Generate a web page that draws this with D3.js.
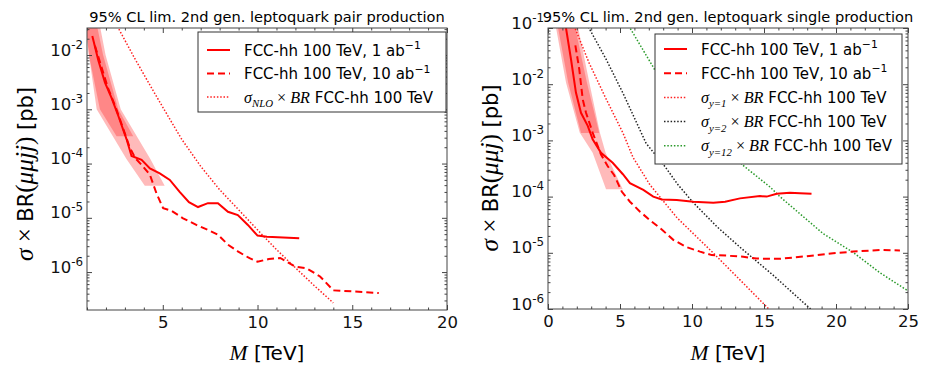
<!DOCTYPE html>
<html>
<head>
<meta charset="utf-8">
<script src="https://cdn.jsdelivr.net/npm/d3@7"></script>
<style>
body { margin: 0; background: #fff; }
text { font-family: "DejaVu Sans", sans-serif; }
</style>
</head>
<body>
<svg id="fig" width="930" height="369"></svg>
<script>
// ---- pair production (left panel) ----
const pairMassRange = [1, 20];
const pairSigmaRange = [2e-7, 3.15e-2];
const pairMassTicks = [5, 10, 15, 20];
const pairSigmaTicks = [1e-6, 1e-5, 1e-4, 1e-3, 1e-2];

// [M (TeV), sigma x BR (pb)]
const pairLimit1 = [[1.28,2.24e-2],[1.6,7.9e-3],[1.95,3.1e-3],[2.3,1.6e-3],[2.65,7.6e-4],[3.09,2.8e-4],
  [3.35,1.38e-4],[3.88,1.17e-4],[4.32,8.1e-5],[4.84,6.6e-5],[5.37,5.0e-5],[5.89,3.0e-5],[6.38,1.95e-5],
  [6.86,1.58e-5],[7.38,1.86e-5],[7.91,1.86e-5],[8.44,1.29e-5],[8.96,1.12e-5],[9.49,7.4e-6],[10.0,4.7e-6],
  [10.5,4.5e-6],[12.2,4.2e-6]];
const pairLimit10 = [[1.42,1.48e-2],[1.7,7.1e-3],[2.1,2.5e-3],[2.5,1.12e-3],[2.9,4.5e-4],[3.25,2.0e-4],
  [3.55,1.26e-4],[3.95,8.9e-5],[4.32,6.2e-5],[4.67,2.8e-5],[5.02,1.5e-5],[5.46,1.35e-5],[6.07,9.8e-6],
  [6.77,7.4e-6],[7.38,6.0e-6],[7.91,4.9e-6],[8.44,3.2e-6],[8.96,2.4e-6],[9.58,1.8e-6],[10.0,1.55e-6],
  [10.6,1.74e-6],[11.2,1.82e-6],[12.0,1.26e-6],[12.6,1.17e-6],[13.3,8.3e-7],[14.0,4.6e-7],[15.0,4.4e-7],
  [16.4,4.1e-7]];
const pairTheory = [[2.6,3.4e-2],[3.5,8.9e-3],[4.4,2.5e-3],[5.2,8.3e-4],[6.0,2.8e-4],[7.0,8.9e-5],
  [8.0,3.3e-5],[9.0,1.41e-5],[10.0,6.0e-6],[11.0,2.6e-6],[12.0,1.2e-6],[13.0,5.6e-7],[14.0,2.7e-7]];
// [sigma, M low, M high]
const pairBandOuter = [[3.2e-2,0.95,1.7],[1e-2,1.1,1.98],[1e-3,1.51,2.78],[1.2e-4,3.09,4.35],[3.9e-5,4.05,5.1]];
const pairBandInner = [[3.2e-2,0.95,1.55],[1e-2,1.1,1.85],[1e-3,1.68,2.65],[3.2e-4,2.56,3.44]];

// ---- single production (right panel) ----
const singleMassRange = [0, 25];
const singleSigmaRange = [1e-6, 1e-1];
const singleMassTicks = [0, 5, 10, 15, 20, 25];
const singleSigmaTicks = [1e-6, 1e-5, 1e-4, 1e-3, 1e-2, 1e-1];

const singleLimit1 = [[1.25,1.0e-1],[1.6,2.75e-2],[1.94,7.1e-3],[2.29,3.1e-3],[2.76,1.82e-3],[3.1,1.05e-3],
  [3.68,6.0e-4],[4.49,4.0e-4],[5.2,2.5e-4],[5.69,1.74e-4],[6.62,1.32e-4],[7.31,1.0e-4],[7.9,8.9e-5],
  [8.94,8.7e-5],[10.09,8.1e-5],[11.48,7.8e-5],[12.3,8.1e-5],[13.33,9.3e-5],[14.72,1.02e-4],[15.19,1.0e-4],
  [15.88,1.12e-4],[16.8,1.17e-4],[17.5,1.15e-4],[18.3,1.12e-4]];
const singleLimit10 = [[1.9,4.9e-2],[2.17,1.86e-2],[2.41,5.4e-3],[2.64,3.1e-3],[3.1,1.38e-3],[3.68,5.6e-4],
  [4.14,3.5e-4],[4.6,2.4e-4],[5.12,1.23e-4],[5.69,8.1e-5],[6.39,5.4e-5],[7.08,3.8e-5],[7.9,2.6e-5],
  [8.7,1.7e-5],[9.63,1.26e-5],[10.56,1.05e-5],[11.37,9.1e-6],[12.41,8.9e-6],[13.56,8.5e-6],[14.49,7.9e-6],
  [16.1,7.8e-6],[17.97,8.7e-6],[19.8,9.8e-6],[21.2,1.05e-5],[23.06,1.12e-5],[24.44,1.1e-5]];
const singleTheoryY1 = [[1.81,1.1e-1],[2.85,2.4e-2],[4.03,5.5e-3],[5.21,1.35e-3],[5.9,5.0e-4],[7.08,1.62e-4],
  [8.96,4.2e-5],[11.46,1.0e-5],[13.33,3.3e-6],[15.42,9.5e-7]];
const singleTheoryY2 = [[2.8,1.05e-1],[4.03,2.8e-2],[5.21,6.9e-3],[6.81,8.9e-4],[8.13,3.4e-4],[9.03,1.62e-4],
  [10.07,7.9e-5],[11.74,2.9e-5],[13.33,1.26e-5],[15.63,4.0e-6],[18.33,9.5e-7]];
const singleTheoryY12 = [[5.6,1.1e-1],[7.43,1.78e-2],[9.0,6.3e-3],[10.5,2.4e-3],[12.0,9.3e-4],[13.54,3.6e-4],
  [15.42,1.48e-4],[16.1,1.0e-4],[19.1,2.2e-5],[21.18,1.02e-5],[23.06,4.4e-6],[25.0,2.1e-6]];
const singleBandOuter = [[1e-1,0.56,2.1],[1.07e-2,1.25,2.87],[1.38e-3,2.2,3.6],[6.0e-4,3.1,4.0],[1.35e-4,4.03,5.19]];
const singleBandInner = [[1e-1,0.7,1.9],[1.07e-2,1.4,2.7],[1.35e-3,2.29,3.56]];

// ---- labels ----
const pairTitle = "95% CL lim. 2nd gen. leptoquark pair production";
const singleTitle = "95% CL lim. 2nd gen. leptoquark single production";
const lumi1Label = [{t:"FCC-hh 100 TeV, 1 ab"},{t:"\u22121",sup:1}];
const lumi10Label = [{t:"FCC-hh 100 TeV, 10 ab"},{t:"\u22121",sup:1}];
const nloLabel = [{t:"\u03c3",m:1},{t:"NLO",m:1,sub:1},{t:" \u00d7 ",m:1,up:1},{t:"BR",m:1},{t:" FCC-hh 100 TeV"}];
const y1Label = [{t:"\u03c3",m:1},{t:"y=1",m:1,sub:1},{t:" \u00d7 ",m:1,up:1},{t:"BR",m:1},{t:" FCC-hh 100 TeV"}];
const y2Label = [{t:"\u03c3",m:1},{t:"y=2",m:1,sub:1},{t:" \u00d7 ",m:1,up:1},{t:"BR",m:1},{t:" FCC-hh 100 TeV"}];
const y12Label = [{t:"\u03c3",m:1},{t:"y=12",m:1,sub:1},{t:" \u00d7 ",m:1,up:1},{t:"BR",m:1},{t:" FCC-hh 100 TeV"}];
const massLabel = [{t:"M",m:1},{t:" [TeV]"}];
const pairYLabel = [{t:"\u03c3",m:1},{t:" \u00d7  ",m:1,up:1},{t:"BR"},{t:"(",m:1,up:1},{t:"\u03bc\u03bcjj",m:1},{t:")",m:1,up:1},{t:" [pb]"}];
const singleYLabel = [{t:"\u03c3",m:1},{t:" \u00d7  ",m:1,up:1},{t:"BR"},{t:"(",m:1,up:1},{t:"\u03bc\u03bcj",m:1},{t:")",m:1,up:1},{t:" [pb]"}];

// line styles
const solid = {color:"#ff0000", width:2, dash:null};
const dashed = {color:"#ff0000", width:2, dash:"7,4"};
const dotRed = {color:"#ff2020", width:1.5, dash:"1.5,1.8"};
const dotBlack = {color:"#222", width:1.5, dash:"1.5,1.8"};
const dotGreen = {color:"#2a9a2a", width:1.5, dash:"1.5,1.8"};

const svg = d3.select("#fig");
const mathFont = "'Liberation Serif', 'DejaVu Serif', serif";

function rich(sel, parts, size, mathScale) {
  let cur = 0;
  parts.forEach(p => {
    const shift = p.sub ? size * 0.3 : p.sup ? -size * 0.42 : 0;
    const ts = sel.append("tspan").text(p.t).attr("dy", shift - cur);
    cur = shift;
    let fs = size;
    if (p.m) fs = size * (mathScale || 1.08);
    if (p.sub || p.sup) fs = size * 0.72;
    ts.attr("font-size", fs);
    if (p.m) ts.attr("font-family", mathFont).attr("font-style", p.up ? "normal" : "italic");
  });
}

function drawPanel(p) {
  const x = d3.scaleLinear().domain(p.xDomain).range([p.x0, p.x1]);
  const y = d3.scaleLog().domain(p.yDomain).range([p.y1, p.y0]);
  const g = svg.append("g");

  g.append("clipPath").attr("id", "clip-" + p.id)
    .append("rect").attr("x", p.x0).attr("y", p.y0)
    .attr("width", p.x1 - p.x0).attr("height", p.y1 - p.y0);
  const plot = g.append("g").attr("clip-path", "url(#clip-" + p.id + ")");

  const band = d3.area().y(d => y(d[0])).x0(d => x(d[1])).x1(d => x(d[2]));
  p.bands.forEach(b => plot.append("path").attr("d", band(b))
    .attr("fill", "#ff0000").attr("fill-opacity", 0.27));

  const line = d3.line().x(d => x(d[0])).y(d => y(d[1]));
  p.series.forEach(s => plot.append("path").attr("d", line(s.data))
    .attr("fill", "none").attr("stroke", s.style.color)
    .attr("stroke-width", s.style.width).attr("stroke-dasharray", s.style.dash));

  // ticks (inward, all four sides)
  const xMinor = d3.range(Math.ceil(p.xDomain[0]), p.xDomain[1] + 0.001, 1).filter(v => !p.xTicks.includes(v));
  const yMinor = [];
  for (let e = -8; e <= 0; e++) for (let k = 2; k <= 9; k++) {
    const v = k * Math.pow(10, e);
    if (v > p.yDomain[0] && v < p.yDomain[1]) yMinor.push(v);
  }
  const axes = [
    [d3.axisBottom(x).tickValues(p.xTicks).tickSize(-5).tickPadding(6).tickFormat(d3.format("d")), `translate(0,${p.y1})`],
    [d3.axisBottom(x).tickValues(xMinor).tickSize(-2.5).tickFormat(""), `translate(0,${p.y1})`],
    [d3.axisTop(x).tickValues(p.xTicks).tickSize(-5).tickFormat(""), `translate(0,${p.y0})`],
    [d3.axisTop(x).tickValues(xMinor).tickSize(-2.5).tickFormat(""), `translate(0,${p.y0})`],
    [d3.axisLeft(y).tickValues(p.yTicks).tickSize(-5).tickPadding(4), `translate(${p.x0},0)`, true],
    [d3.axisLeft(y).tickValues(yMinor).tickSize(-2.5).tickFormat(""), `translate(${p.x0},0)`],
    [d3.axisRight(y).tickValues(p.yTicks).tickSize(-5).tickFormat(""), `translate(${p.x1},0)`],
    [d3.axisRight(y).tickValues(yMinor).tickSize(-2.5).tickFormat(""), `translate(${p.x1},0)`]
  ];
  axes.forEach(([ax, tr, logLabels]) => {
    const a = g.append("g").attr("transform", tr).call(ax)
      .attr("font-family", null).attr("font-size", 16.5);
    a.select(".domain").remove();
    a.selectAll(".tick line").attr("stroke", "#444");
    a.selectAll(".tick text").attr("fill", "#111");
    if (logLabels) {
      a.selectAll(".tick text").each(function(d) {
        const t = d3.select(this).text(null);
        rich(t, [{t:"10"},{t:"-" + Math.round(-Math.log10(d)), sup:1}], 16.5);
      });
    }
  });

  g.append("rect").attr("x", p.x0).attr("y", p.y0)
    .attr("width", p.x1 - p.x0).attr("height", p.y1 - p.y0)
    .attr("fill", "none").attr("stroke", "#444").attr("stroke-width", 1);

  // titles and axis labels
  g.append("text").attr("x", (p.x0 + p.x1) / 2).attr("y", 22)
    .attr("text-anchor", "middle").attr("font-size", 14.6).text(p.title);
  rich(g.append("text").attr("x", (p.x0 + p.x1) / 2).attr("y", 360)
    .attr("text-anchor", "middle"), massLabel, 20);
  rich(g.append("text").attr("transform", `translate(${p.yLabelX},${p.yLabelY}) rotate(-90)`)
    .attr("text-anchor", "middle"), p.yLabel, 21, 1.2);

  // legend
  const L = p.legend;
  const lg = g.append("g");
  lg.append("rect").attr("x", L.x).attr("y", L.y).attr("width", L.w).attr("height", L.h)
    .attr("fill", "#fff").attr("stroke", "#333").attr("stroke-width", 1);
  L.entries.forEach((e, i) => {
    const cy = L.y + L.first + i * L.step;
    lg.append("line").attr("x1", L.x + 9).attr("x2", L.x + 32).attr("y1", cy).attr("y2", cy)
      .attr("stroke", e.style.color).attr("stroke-width", e.style.width)
      .attr("stroke-dasharray", e.style.dash);
    rich(lg.append("text").attr("x", L.x + 46).attr("y", cy + 5.5), e.label, 15);
  });
}

drawPanel({
  id: "pair", x0: 87, x1: 447, y0: 28, y1: 310,
  xDomain: pairMassRange, yDomain: pairSigmaRange,
  xTicks: pairMassTicks, yTicks: pairSigmaTicks,
  title: pairTitle, yLabel: pairYLabel, yLabelX: 33, yLabelY: 174,
  bands: [pairBandOuter, pairBandInner],
  series: [
    {data: pairTheory, style: dotRed},
    {data: pairLimit10, style: dashed},
    {data: pairLimit1, style: solid}
  ],
  legend: {x: 198, y: 32, w: 248, h: 80, first: 18, step: 23.5, entries: [
    {style: solid, label: lumi1Label},
    {style: dashed, label: lumi10Label},
    {style: dotRed, label: nloLabel}
  ]}
});

drawPanel({
  id: "single", x0: 548, x1: 908, y0: 28, y1: 309,
  xDomain: singleMassRange, yDomain: singleSigmaRange,
  xTicks: singleMassTicks, yTicks: singleSigmaTicks,
  title: singleTitle, yLabel: singleYLabel, yLabelX: 498, yLabelY: 168,
  bands: [singleBandOuter, singleBandInner],
  series: [
    {data: singleTheoryY12, style: dotGreen},
    {data: singleTheoryY2, style: dotBlack},
    {data: singleTheoryY1, style: dotRed},
    {data: singleLimit10, style: dashed},
    {data: singleLimit1, style: solid}
  ],
  legend: {x: 655, y: 34, w: 247, h: 130, first: 15, step: 24.2, entries: [
    {style: solid, label: lumi1Label},
    {style: dashed, label: lumi10Label},
    {style: dotRed, label: y1Label},
    {style: dotBlack, label: y2Label},
    {style: dotGreen, label: y12Label}
  ]}
});
</script>
</body>
</html>
